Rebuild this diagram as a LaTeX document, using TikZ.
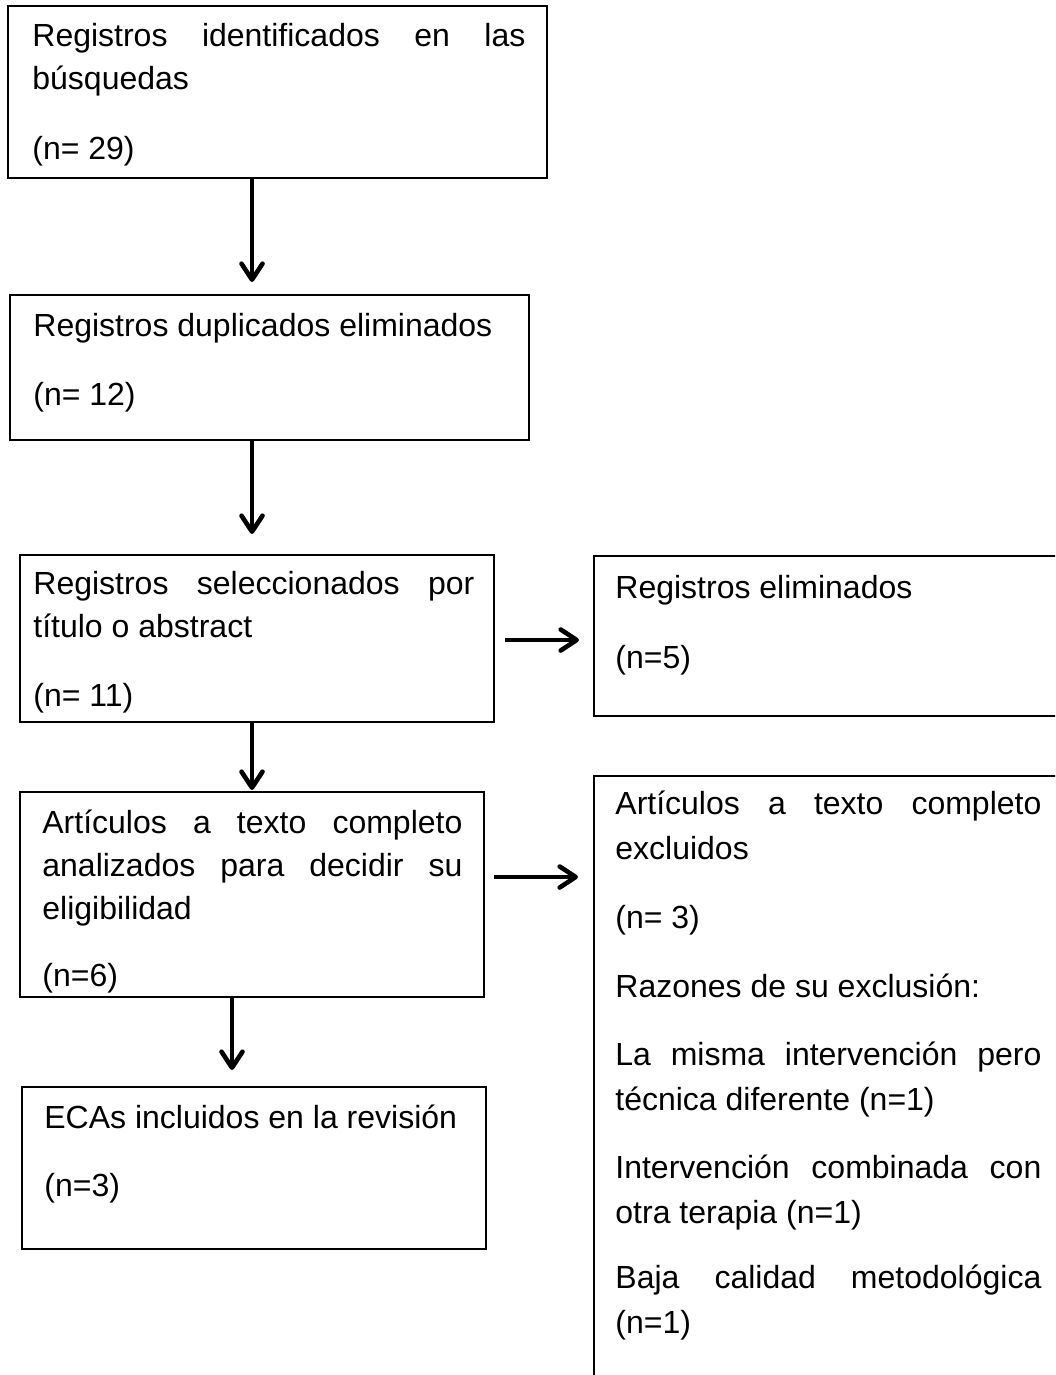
\documentclass[tikz,border=0pt]{standalone}
\usepackage{fontspec}
\setmainfont{Liberation Sans}
\usepackage{tikz}
\usetikzlibrary{calc,arrows.meta}
\newcommand{\pxsize}{0.5pt}
\newcommand{\prcaja}[5]{\node[caja,minimum width=#4*\pxsize,minimum height=#5*\pxsize] (#1) at (#2,#3) {};}
\newcommand{\prtexto}[2]{\parbox[t]{#1}{\hyphenpenalty=10000\relax #2}}
\tikzset{
  caja/.style={draw,line width=1pt,anchor=north west,inner sep=0pt,outer sep=0pt},
  texto/.style={anchor=base west,inner sep=0pt,font=\fontsize{16pt}{21.5pt}\selectfont},
  flecha/.style={line width=2.3pt,-{Straight Barb[length=8pt,width=10.5pt,round]}}
}

\begin{document}
\begin{tikzpicture}[x=\pxsize,y=-\pxsize]
        \useasboundingbox (0,0) rectangle (1055,1375);
        \clip (0,0) rectangle (1055,1375);

        \prcaja{busq}{8}{6}{539}{172}
        \prcaja{dupl}{10}{295}{519}{145}
        \prcaja{sele}{20}{555}{474}{167}
        \prcaja{elim}{594}{556}{480}{160}
        \prcaja{arti}{20}{792}{464}{205}
        \prcaja{excl}{594}{776}{480}{650}
        \prcaja{ecas}{22}{1087}{464}{162}

\node[texto] (busqtxt) at ($(busq.north west)+(24,41)$)
  {\prtexto{246.5pt}{Registros identificados en las\linebreak búsquedas\\[13.5pt] (n= 29)}};
\node[texto] (dupltxt) at ($(dupl.north west)+(23,41)$)
  {\prtexto{240pt}{Registros duplicados eliminados\\[13pt] (n= 12)}};
\node[texto] (seletxt) at ($(sele.north west)+(13,39)$)
  {\prtexto{220.5pt}{Registros seleccionados por\linebreak título o abstract\\[13pt] (n= 11)}};
\node[texto] (elimtxt) at ($(elim.north west)+(21,42)$)
  {\prtexto{213pt}{Registros eliminados\\[13.5pt] (n=5)}};
\node[texto] (artitxt) at ($(arti.north west)+(22,41)$)
  {\prtexto{210pt}{Artículos a texto completo\linebreak analizados para decidir su\linebreak eligibilidad\\[12pt] (n=6)}};
\node[texto,font=\fontsize{16pt}{22.5pt}\selectfont] (excltxt) at ($(excl.north west)+(21,38)$)
  {\prtexto{213pt}{Artículos a texto completo\linebreak excluidos\\[12pt]
   (n= 3)\\[12pt]
   Razones de su exclusión:\\[11.5pt]
   La misma intervención pero\linebreak técnica diferente (n=1)\\[11.5pt]
   Intervención combinada con\linebreak otra terapia (n=1)\\[10pt]
   Baja calidad metodológica\linebreak (n=1)}};
\node[texto] (ecastxt) at ($(ecas.north west)+(22,41)$)
  {\prtexto{225pt}{ECAs incluidos en la revisión\\[12.5pt] (n=3)}};

        \coordinate (ejea) at (252,0);
        \coordinate (ejeb) at (232,0);
        \coordinate (nivela) at (0,640);
        \coordinate (nivelb) at (0,877);

\draw[flecha,shorten >=6.5pt] (busq.south -| ejea) -- (dupl.north -| ejea);
\draw[flecha,shorten >=10.5pt] (dupl.south -| ejea) -- (sele.north -| ejea);
\draw[flecha,shorten <=5.5pt,shorten >=7.5pt] (sele.east |- nivela) -- (elim.west |- nivela);
\draw[flecha,shorten >=1pt] (sele.south -| ejea) -- (arti.north -| ejea);
\draw[flecha,shorten <=5pt,shorten >=8pt] (arti.east |- nivelb) -- (excl.west |- nivelb);
\draw[flecha,shorten >=8.5pt] (arti.south -| ejeb) -- (ecas.north -| ejeb);

    \end{tikzpicture}
\end{document}
